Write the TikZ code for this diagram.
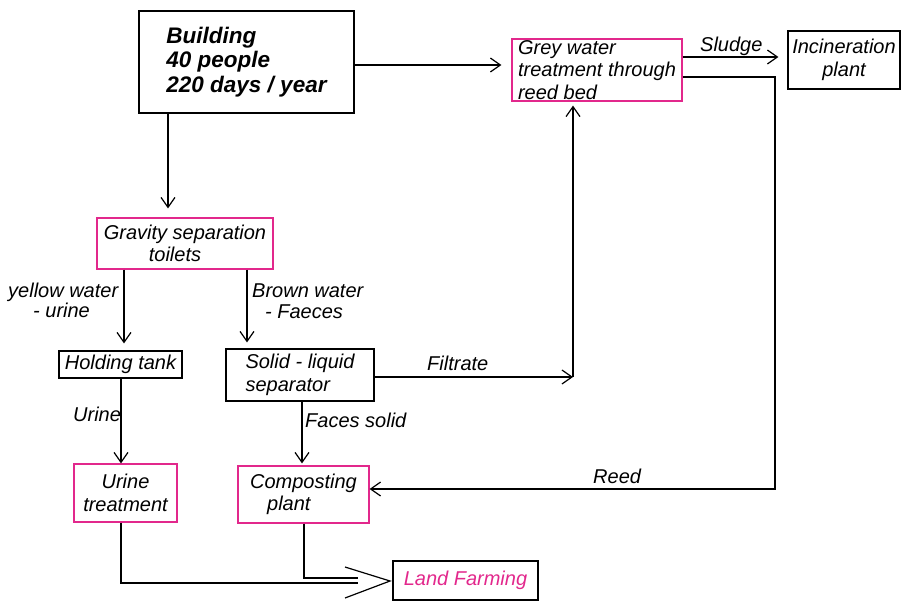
\documentclass[tikz,border=0pt]{standalone}
\usepackage{fontspec}
\setmainfont{Liberation Sans}
\usetikzlibrary{arrows.meta}
\definecolor{pinkc}{RGB}{226,40,140}
\begin{document}
\begin{tikzpicture}[x=1pt,y=-1pt,
  box/.style={draw=black, line width=1.2pt, inner sep=0pt, font=\fontsize{20}{22.5}\selectfont\itshape},
  pbox/.style={box, draw=pinkc},
  arr/.style={line width=1.2pt, -{Straight Barb[length=10pt,width=14pt,line width=1.2pt]}},
  ln/.style={line width=1.2pt},
  lbl/.style={font=\fontsize{20}{22}\selectfont\itshape, inner sep=0pt, anchor=base west},
]
\useasboundingbox (0,0) rectangle (904,602);
% boxes
\node[box, minimum width=215pt, minimum height=102pt, align=left,
      font=\fontsize{22.5}{24.5}\selectfont\bfseries\itshape] (bld) at (246.5,62) {Building\\40 people\\220 days / year};
\node[pbox, minimum width=170pt, minimum height=62pt, align=left] (grey) at (597,70) {Grey water\\treatment through\\reed bed};
\node[box, minimum width=112pt, minimum height=58pt, align=center] (incin) at (844,60) {Incineration\\plant};
\node[pbox, minimum width=176pt, minimum height=51pt, align=left] (grav) at (185,243.5) {Gravity separation\\\hspace*{45pt}toilets};
\node[box, minimum width=123pt, minimum height=27pt] (hold) at (120.5,364.5) {Holding tank};
\node[box, minimum width=148pt, minimum height=52pt, align=left] (sep) at (300,375) {Solid - liquid\\separator};
\node[pbox, minimum width=103pt, minimum height=58pt, align=center] (urine) at (125.5,493) {Urine\\treatment};
\node[pbox, minimum width=131pt, minimum height=57pt, align=left] (comp) at (303.5,494.5) {Composting\\\hspace*{17pt}plant};
\node[box, minimum width=145pt, minimum height=39pt, text=pinkc] (lf) at (465.5,580.5) {Land Farming};
% helper coordinates
\coordinate (xA) at (168,0);
\coordinate (yB) at (0,65);
\coordinate (xL) at (124,0);
\coordinate (xR) at (247,0);
\coordinate (xU) at (121,0);
\coordinate (xS) at (302,0);
\coordinate (fc) at (573,377);
\coordinate (yS) at (0,57);
\coordinate (rc) at (775,77);
\coordinate (rc2) at (775,489);
\coordinate (tip) at (390,581);
\coordinate (a1) at (345,567);
\coordinate (a2) at (345,598);
\coordinate (j1) at (358,583);
\coordinate (j2) at (358,578);
\coordinate (xC) at (304,0);
% connectors
\draw[arr, shorten >=10pt] (bld.east |- yB) -- (grey.west |- yB);
\draw[arr, shorten >=9pt] (bld.south -| xA) -- (grav.north -| xA);
\draw[arr, shorten >=7pt] (grav.south -| xL) -- (hold.north -| xL);
\draw[arr, shorten >=6pt] (grav.south -| xR) -- (sep.north -| xR);
\draw[arr] (hold.south -| xU) -- (urine.north -| xU);
\draw[arr, shorten >=2pt] (sep.south -| xS) -- (comp.north -| xS);
\draw[arr] (sep.east |- fc) -- (fc);
\draw[arr, shorten >=4pt] (fc) -- (grey.south -| fc);
\draw[arr, shorten >=9pt] (grey.east |- yS) -- (incin.west |- yS);
\draw[arr] (grey.east |- rc) -- (rc) -- (rc2) -- (comp.east |- rc2);
\draw[ln] (urine.south -| xU) |- (j1);
\draw[ln] (comp.south -| xC) |- (j2);
\draw[ln] (a1) -- (tip) -- (a2);
% labels
\node[lbl] (l1) at (8,297) {yellow water};
\node[lbl] (l2) at (33,317) {- urine};
\node[lbl] (l3) at (252,297) {Brown water};
\node[lbl] (l4) at (265,318) {- Faeces};
\node[lbl] (l5) at (73,421) {Urine};
\node[lbl] (l6) at (305,427) {Faces solid};
\node[lbl] (l7) at (427,370) {Filtrate};
\node[lbl] (l8) at (700,52) {Sludge};
\node[lbl] (l9) at (593,483) {Reed};
\end{tikzpicture}
\end{document}
